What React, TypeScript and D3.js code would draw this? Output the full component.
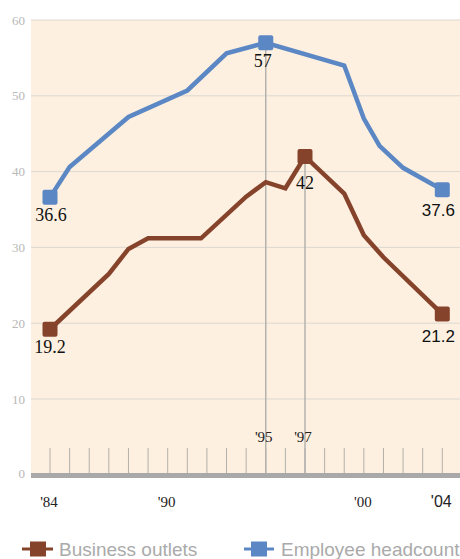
import React from "react";
import * as d3 from "d3";

// Business outlets (brown) - vertices
const outletYears = [1984, 1987, 1988, 1989, 1991.7, 1994, 1995, 1996, 1997, 1999, 2000, 2001, 2004];
const outletValues = [19.2, 26.5, 29.8, 31.2, 31.2, 36.7, 38.6, 37.8, 42, 37.1, 31.6, 28.7, 21.2];

// Employee headcount (blue)
const headcountYears = [1984, 1985, 1988, 1991, 1993, 1995, 1999, 2000, 2000.8, 2002, 2004];
const headcountValues = [36.6, 40.6, 47.2, 50.7, 55.6, 57, 54.0, 47.0, 43.4, 40.5, 37.6];

const yTicks = [0, 10, 20, 30, 40, 50, 60];
const tickYears = d3.range(1984, 2005);
const xLabels = [
  { year: 1984, text: "'84", sans: false },
  { year: 1990, text: "'90", sans: false },
  { year: 2000, text: "'00", sans: false },
  { year: 2004, text: "'04", sans: true },
];
const markerYears = [1995, 1997];

// annotated points
const outletNotes = [
  { year: 1984, value: 19.2, dy: 24, sans: false, anchor: "middle", dx: 0 },
  { year: 1997, value: 42, dy: 33, sans: false, anchor: "middle", dx: 0 },
  { year: 2004, value: 21.2, dy: 28, sans: true, anchor: "middle", dx: -4 },
];
const headcountNotes = [
  { year: 1984, value: 36.6, dy: 24, sans: false, anchor: "middle", dx: 1 },
  { year: 1995, value: 57, dy: 24, sans: false, anchor: "middle", dx: -3 },
  { year: 2004, value: 37.6, dy: 26, sans: true, anchor: "middle", dx: -4 },
];

const W = 460;
const H = 559;
const plot = { left: 31, right: 460, top: 20, bottom: 474 };

const BROWN = "#86432b";
const BLUE = "#5b87c4";
const SERIF = "'Liberation Serif', 'Times New Roman', serif";
const SANS = "'Liberation Sans', Arial, sans-serif";

export default function App() {
  const x = d3.scaleLinear().domain([1984, 2004]).range([50, 442.3]);
  const y = d3.scaleLinear().domain([0, 60]).range([474.8, 20]);

  const line = d3
    .line<[number, number]>()
    .x((d) => x(d[0]))
    .y((d) => y(d[1]));

  const outlets = outletYears.map((yr, i) => [yr, outletValues[i]] as [number, number]);
  const heads = headcountYears.map((yr, i) => [yr, headcountValues[i]] as [number, number]);

  const valueAt = (yr: number) => {
    const a = outlets.find((d) => d[0] === yr);
    const b = heads.find((d) => d[0] === yr);
    return Math.max(a ? a[1] : 0, b ? b[1] : 0);
  };

  const marker = (cx: number, cy: number, color: string, key: string) => (
    <rect key={key} x={cx - 7.5} y={cy - 7.5} width={15} height={15} rx={2} fill={color} />
  );

  return (
    <svg
      width={W}
      height={H}
      style={{ position: "absolute", left: 0, top: 0, background: "#fff" }}
    >
      <rect
        x={plot.left}
        y={plot.top}
        width={plot.right - plot.left}
        height={plot.bottom - plot.top}
        fill="#fdf0e0"
      />
      {/* gridlines + y labels */}
      {yTicks.map((t) => (
        <g key={t}>
          {t > 0 && (
            <line x1={plot.left} x2={plot.right} y1={y(t)} y2={y(t)} stroke="#dcd8d2" strokeWidth={1} />
          )}
          <text
            x={25}
            y={t === 0 ? 473 : y(t)}
            dy="0.35em"
            textAnchor="end"
            fontFamily={SERIF}
            fontSize={13}
            fill="#b8b8b8"
          >
            {t}
          </text>
        </g>
      ))}
      {/* year ticks */}
      {tickYears.map((yr) => (
        <line key={yr} x1={x(yr)} x2={x(yr)} y1={448} y2={474} stroke="#b3b0ab" strokeWidth={1} />
      ))}
      {/* annotation lines for '95 and '97 */}
      {markerYears.map((yr) => (
        <g key={yr}>
          <line x1={x(yr)} x2={x(yr)} y1={y(valueAt(yr))} y2={474} stroke="#b4b2ae" strokeWidth={1.5} />
          <text x={x(yr) - 2} y={442} textAnchor="middle" fontFamily={SERIF} fontSize={15} fill="#222">
            {"'" + String(yr).slice(2)}
          </text>
        </g>
      ))}
      {/* axis bar */}
      <rect x={plot.left} y={473} width={plot.right - plot.left} height={5} fill="#a9a9a9" />
      {xLabels.map((d) => (
        <text
          key={d.year}
          x={x(d.year) - 1}
          y={507}
          textAnchor="middle"
          fontFamily={d.sans ? SANS : SERIF}
          fontSize={d.sans ? 16 : 15}
          fill="#222"
        >
          {d.text}
        </text>
      ))}
      {/* series */}
      <path d={line(outlets) || ""} fill="none" stroke={BROWN} strokeWidth={4.5} strokeLinejoin="miter" />
      <path d={line(heads) || ""} fill="none" stroke={BLUE} strokeWidth={4.5} strokeLinejoin="miter" />
      {outletNotes.map((n) => marker(x(n.year), y(n.value), BROWN, "om" + n.year))}
      {headcountNotes.map((n) => marker(x(n.year), y(n.value), BLUE, "hm" + n.year))}
      {[...outletNotes, ...headcountNotes].map((n, i) => (
        <text
          key={"n" + i}
          x={x(n.year) + n.dx}
          y={y(n.value) + n.dy}
          textAnchor={n.anchor}
          fontFamily={n.sans ? SANS : SERIF}
          fontSize={n.sans ? 17 : 18}
          fill="#111"
        >
          {n.value}
        </text>
      ))}
      {/* legend */}
      <g>
        <line x1={22} x2={53} y1={549} y2={549} stroke={BROWN} strokeWidth={3} />
        <rect x={30} y={541.5} width={16} height={15} fill={BROWN} />
        <text x={59} y={555.5} fontFamily={SANS} fontSize={19} fill="#aaaaaa">
          Business outlets
        </text>
        <line x1={244} x2={274} y1={549} y2={549} stroke={BLUE} strokeWidth={3} />
        <rect x={251} y={541.5} width={16} height={15} fill={BLUE} />
        <text x={281} y={555.5} fontFamily={SANS} fontSize={19} fill="#aaaaaa">
          Employee headcount
        </text>
      </g>
    </svg>
  );
}
